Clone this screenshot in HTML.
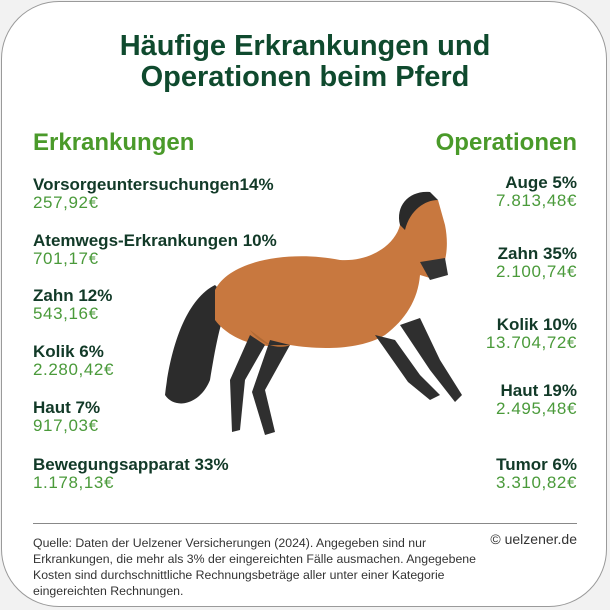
<!DOCTYPE html>
<html><head><meta charset="utf-8"><style>
body{margin:0;width:610px;height:610px;background:#f2f2f2;font-family:"Liberation Sans",sans-serif;overflow:hidden}
#card{position:absolute;left:1px;top:1px;width:606px;height:606px;background:#fff;border:1px solid #9a9a9a;border-radius:58px;box-sizing:border-box}
.t{position:absolute;white-space:nowrap}
.title{left:0;width:610px;text-align:center;font-size:29px;font-weight:bold;color:#0f4a2e;line-height:32px}
.sec{font-size:24px;font-weight:bold;color:#4a9a2a}
.lab{font-size:17px;font-weight:bold;color:#123a28}
.val{font-size:17px;color:#4a9a3a;letter-spacing:0.6px}
.r{text-align:right;right:33px}
.foot{left:33px;font-size:12.3px;color:#333;line-height:16px}
</style></head><body>
<div id="card"></div>
<div class="t title" style="top:30px">Häufige Erkrankungen und</div>
<div class="t title" style="top:61px">Operationen beim Pferd</div>
<div class="t sec" style="left:33px;top:129px">Erkrankungen</div>
<div class="t sec r" style="top:129px">Operationen</div>
<svg style="position:absolute;left:0;top:0" width="610" height="610">
<path d="M215 285 C185 300 170 350 165 395 C175 410 200 405 210 380 C215 350 220 320 230 300 Z" fill="#2c2c2c"/>
<path d="M215 290 C230 260 290 250 340 260 C370 262 395 245 400 225 C405 205 420 195 438 200 L445 225 C450 250 445 275 430 278 L420 275 C418 300 405 320 385 335 C360 350 320 350 290 345 C260 350 230 340 215 320 Z" fill="#c8783f"/>
<path d="M400 225 C395 205 410 190 430 192 L438 200 C425 200 410 210 405 230 Z" fill="#2a2a2a"/>
<path d="M420 262 L445 258 L448 275 L430 280 Z" fill="#333"/>
<path d="M250 335 L265 345 L245 380 L240 430 L232 432 L230 380 Z" fill="#2f2f2f"/>
<path d="M270 340 L290 345 L265 390 L275 432 L265 435 L252 392 Z" fill="#2f2f2f"/>
<path d="M375 335 L395 340 L420 375 L440 395 L430 400 L408 382 Z" fill="#2f2f2f"/>
<path d="M400 325 L420 318 L440 360 L462 395 L455 402 L430 370 Z" fill="#2f2f2f"/>
<path d="M250 330 C260 345 280 350 290 345 L270 345 Z" fill="#b06a35"/>
</svg>
<div style="position:absolute;left:33px;top:523px;width:544px;height:1px;background:#888"></div>
<div class="t foot" style="top:535px">Quelle: Daten der Uelzener Versicherungen (2024). Angegeben sind nur<br>Erkrankungen, die mehr als 3% der eingereichten Fälle ausmachen. Angegebene<br>Kosten sind durchschnittliche Rechnungsbeträge aller unter einer Kategorie<br>eingereichten Rechnungen.</div>
<div class="t" style="right:33px;top:531px;font-size:14px;color:#333">© uelzener.de</div>
<script>
const leftLabels=["Vorsorgeuntersuchungen14%","Atemwegs-Erkrankungen 10%","Zahn 12%","Kolik 6%","Haut 7%","Bewegungsapparat 33%"];
const leftValues=["257,92€","701,17€","543,16€","2.280,42€","917,03€","1.178,13€"];
const rightLabels=["Auge 5%","Zahn 35%","Kolik 10%","Haut 19%","Tumor 6%"];
const rightValues=["7.813,48€","2.100,74€","13.704,72€","2.495,48€","3.310,82€"];
const leftTops=[175,231,286,342,398,455];
const rightTops=[173,244,315,381,455];
function add(cls,txt,top,left){const d=document.createElement('div');d.className='t '+cls;d.textContent=txt;d.style.top=top+'px';if(left!=null)d.style.left=left+'px';document.body.appendChild(d);return d;}
leftLabels.forEach((l,i)=>{
const a=add('lab',l,leftTops[i],33);


const b=add('val',leftValues[i],leftTops[i]+18,33);


});
rightLabels.forEach((l,i)=>{
const a=add('lab r',l,rightTops[i]);


const b=add('val r',rightValues[i],rightTops[i]+18);


});
</script>
</body></html>
